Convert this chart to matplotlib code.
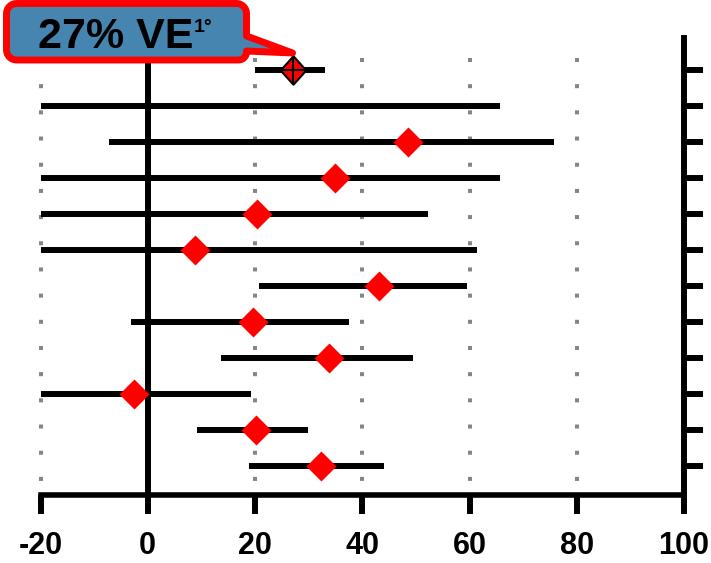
import numpy as np
import matplotlib
matplotlib.use("Agg")
import matplotlib.pyplot as plt
from matplotlib.path import Path
from matplotlib.patches import PathPatch

plt.rcParams['font.family'] = ['Liberation Sans', 'DejaVu Sans']

# vaccine efficacy (%) per study, top row is the pooled estimate
rows = np.arange(1, 13)
est = [27, np.nan, 48.5, 34.9, 20.3, 8.8, 43.1, 19.6, 33.8, -2.6, 20.1, 32.4]
lower = [20, -30, -7.3, -30, -30, -30, 20.7, -3.1, 13.7, -30, 9.2, 18.8]
upper = [33, 65.6, 75.8, 65.6, 52.3, 61.4, 59.5, 37.6, 49.5, 19.2, 29.8, 44.0]
xticks = [-20, 0, 20, 40, 60, 80, 100]
grid_x = [-20, 20, 40, 60, 80]
pooled_label = "27% VE"

W, H = 711, 563
fig = plt.figure(figsize=(W / 100, H / 100), dpi=100)
ax = fig.add_axes([40.5 / W, (H - 495) / H, 643.5 / W, 457 / H])
ax.set_xlim(-20, 100)
ax.set_ylim(12.806, 0.111)

# dotted guide lines
for gx in grid_x:
    ax.axvline(gx, color='#858585', lw=2.9, linestyle=(3, (1.0, 5.5)),
               clip_on=False, zorder=1)
ax.axvline(0, color='black', lw=4.3, zorder=2)

# confidence intervals
ax.hlines(rows, lower, upper, color='black', lw=4.3, capstyle='butt', zorder=3)

diamond = [(0, 1), (1, 0), (0, -1), (-1, 0), (0, 1)]
ax.plot(est[1:], rows[1:], linestyle='none', marker=diamond, ms=21.6,
        color='red', mew=0, zorder=4)

# pooled estimate
pooled = [(0, 1), (0.9, 0), (0, -1), (-0.9, 0), (0, 1)]
ax.plot(est[0], rows[0], linestyle='none', marker=pooled, ms=20.5,
        mfc='red', mec='black', mew=1.5, zorder=4)
ax.plot(est[0], rows[0], linestyle='none', marker='+', ms=19.5,
        color='black', mew=1.5, zorder=5)

for s in ['left', 'top']:
    ax.spines[s].set_visible(False)
ax.spines['bottom'].set_linewidth(4)
ax.spines['right'].set_linewidth(4.3)
ax.spines['bottom'].set_capstyle('projecting')
ax.yaxis.tick_right()
ax.set_yticks(rows)
ax.set_yticklabels([])
ax.tick_params(axis='y', direction='out', length=14, width=4.3, color='black')
ax.set_xticks(xticks)
ax.set_xticklabels([str(t) for t in xticks], fontsize=22, fontweight='bold')
ax.tick_params(axis='x', direction='out', length=14, width=4.3, pad=12)

# callout box pointing at the pooled diamond
fig.canvas.draw()
tx, ty = ax.transData.transform((est[0], rows[0]))
tip = (tx, H - ty - 17)


def arc(cx, cy, r, a0, a1, n=8):
    t = np.radians(np.linspace(a0, a1, n))
    return [(cx + r * np.cos(t_), cy + r * np.sin(t_)) for t_ in t]


x0, x1, y0, y1, r = 6.5, 246.5, 3.5, 60, 10
pts = []
pts += arc(x0 + r, y0 + r, r, 180, 270)
pts += arc(x1 - r, y0 + r, r, 270, 360)
pts += [(x1, 36), tip, (x1, 51)]
pts += arc(x1 - 8, y1 - 8, 8, 0, 90)
pts += arc(x0 + r, y1 - r, r, 90, 180)
pts.append(pts[0])
verts = [(px / W, 1 - py / H) for px, py in pts]
codes = [Path.MOVETO] + [Path.LINETO] * (len(verts) - 2) + [Path.CLOSEPOLY]
fig.add_artist(PathPatch(Path(verts, codes), transform=fig.transFigure,
                         facecolor='#4785B1', edgecolor='red', lw=5,
                         joinstyle='round', clip_on=False))
fig.text(38 / W, 1 - 48 / H, pooled_label, fontsize=31, fontweight='bold',
         ha='left', va='baseline')
fig.text(194 / W, 1 - 32 / H, "1°", fontsize=14, fontweight='bold',
         ha='left', va='baseline')

fig.savefig('out.png', dpi=100)
